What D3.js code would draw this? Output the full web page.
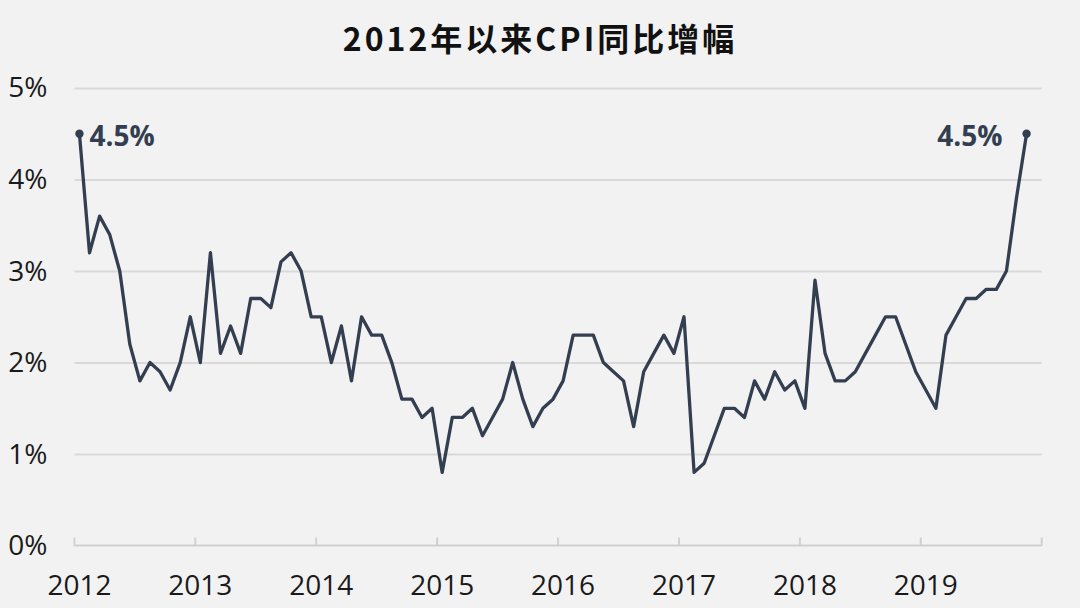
<!DOCTYPE html>
<html>
<head>
<meta charset="utf-8">
<script src="https://cdn.jsdelivr.net/npm/d3@7"></script>
<style>
  html, body { margin: 0; padding: 0; background: #f2f2f2; }
  svg { display: block; }
</style>
</head>
<body>
<svg id="chart" width="1080" height="608"></svg>
<script>
// ---- Data ----
const title = "2012年以来CPI同比增幅";
const years = ["2012", "2013", "2014", "2015", "2016", "2017", "2018", "2019"];
const cpi2012 = [4.5, 3.2, 3.6, 3.4, 3.0, 2.2, 1.8, 2.0, 1.9, 1.7, 2.0, 2.5];
const cpi2013 = [2.0, 3.2, 2.1, 2.4, 2.1, 2.7, 2.7, 2.6, 3.1, 3.2, 3.0, 2.5];
const cpi2014 = [2.5, 2.0, 2.4, 1.8, 2.5, 2.3, 2.3, 2.0, 1.6, 1.6, 1.4, 1.5];
const cpi2015 = [0.8, 1.4, 1.4, 1.5, 1.2, 1.4, 1.6, 2.0, 1.6, 1.3, 1.5, 1.6];
const cpi2016 = [1.8, 2.3, 2.3, 2.3, 2.0, 1.9, 1.8, 1.3, 1.9, 2.1, 2.3, 2.1];
const cpi2017 = [2.5, 0.8, 0.9, 1.2, 1.5, 1.5, 1.4, 1.8, 1.6, 1.9, 1.7, 1.8];
const cpi2018 = [1.5, 2.9, 2.1, 1.8, 1.8, 1.9, 2.1, 2.3, 2.5, 2.5, 2.2, 1.9];
const cpi2019 = [1.7, 1.5, 2.3, 2.5, 2.7, 2.7, 2.8, 2.8, 3.0, 3.8, 4.5, null];
const yTicks = [0, 1, 2, 3, 4, 5];

// ---- Build ----
const yearly = [cpi2012, cpi2013, cpi2014, cpi2015, cpi2016, cpi2017, cpi2018, cpi2019];
const months = [];
years.forEach((yr, i) => {
  yearly[i].forEach((v, m) => {
    months.push({ key: yr + "-" + String(m + 1).padStart(2, "0"), year: yr, m: m, value: v });
  });
});
const data = months.filter(d => d.value !== null);

const svg = d3.select("#chart");
const W = 1080, H = 608;
const margin = { left: 74.4, right: 1080 - 1041.7, top: 88, bottom: 608 - 545.6 };

const x = d3.scaleBand()
  .domain(months.map(d => d.key))
  .range([margin.left, W - margin.right])
  .paddingInner(0).paddingOuter(0);
const y = d3.scaleLinear().domain([0, 5]).range([H - margin.bottom, margin.top]);
const cx = k => x(k) + x.bandwidth() / 2;

const dark = "#333f50";
const fontFam = "'Open Sans', 'Noto Sans CJK SC', sans-serif";
const fs = 28;

// Title
svg.append("text")
  .attr("x", 540).attr("y", 51)
  .attr("text-anchor", "middle")
  .attr("font-family", "'Noto Sans CJK SC', 'Open Sans', sans-serif")
  .attr("font-weight", 700)
  .attr("font-size", 32)
  .attr("letter-spacing", 3)
  .attr("fill", "#111")
  .text(title);

// Grid lines + y labels
const yAxis = d3.axisLeft(y)
  .tickValues(yTicks)
  .tickSize(-(W - margin.left - margin.right))
  .tickPadding(27)
  .tickFormat(d => d + "%");
const gy = svg.append("g")
  .attr("transform", `translate(${margin.left},0)`)
  .call(yAxis);
gy.select(".domain").remove();
gy.selectAll(".tick line")
  .attr("stroke", "#d9d9d9")
  .attr("stroke-width", 2)
  .filter(d => d === 0).remove();
gy.selectAll(".tick text")
  .attr("font-family", fontFam)
  .attr("font-size", fs)
  .attr("fill", "#1a1a1a");

// X axis
const janKeys = years.map(yr => yr + "-01");
const xAxis = d3.axisBottom(x)
  .tickValues(janKeys)
  .tickSize(0)
  .tickPadding(30)
  .tickFormat(k => k.slice(0, 4));
const gx = svg.append("g")
  .attr("transform", `translate(0,${H - margin.bottom})`)
  .call(xAxis);
gx.select(".domain").remove();
gx.selectAll(".tick text")
  .attr("font-family", fontFam)
  .attr("font-size", fs)
  .attr("fill", "#1a1a1a");

// axis baseline
const y0 = y(0);
svg.append("line")
  .attr("x1", x.range()[0]).attr("x2", x.range()[1])
  .attr("y1", y0).attr("y2", y0)
  .attr("stroke", "#d0d0d0").attr("stroke-width", 2);
// inside tick marks at year boundaries + end
const tickPos = janKeys.map(k => x(k)).concat([x.range()[1]]);
svg.selectAll("line.xtick").data(tickPos).join("line")
  .attr("class", "xtick")
  .attr("x1", d => d).attr("x2", d => d)
  .attr("y1", y0).attr("y2", y0 - 8)
  .attr("stroke", "#d0d0d0").attr("stroke-width", 2);

// Line
const line = d3.line()
  .x(d => cx(d.key))
  .y(d => y(d.value));
svg.append("path")
  .datum(data)
  .attr("d", line)
  .attr("fill", "none")
  .attr("stroke", dark)
  .attr("stroke-width", 3.3)
  .attr("stroke-linejoin", "round");

// End markers + labels
const first = data[0], last = data[data.length - 1];
svg.selectAll("circle.end").data([first, last]).join("circle")
  .attr("class", "end")
  .attr("cx", d => cx(d.key))
  .attr("cy", d => y(d.value))
  .attr("r", 4.2)
  .attr("fill", dark);

svg.append("text")
  .attr("x", cx(first.key) + 10)
  .attr("y", y(first.value) + 12)
  .attr("font-family", fontFam)
  .attr("font-weight", 700)
  .attr("font-size", fs)
  .attr("fill", dark)
  .text(first.value + "%");
svg.append("text")
  .attr("x", cx(last.key) - 24)
  .attr("y", y(last.value) + 12)
  .attr("text-anchor", "end")
  .attr("font-family", fontFam)
  .attr("font-weight", 700)
  .attr("font-size", fs)
  .attr("fill", dark)
  .text(last.value + "%");
</script>
</body>
</html>
